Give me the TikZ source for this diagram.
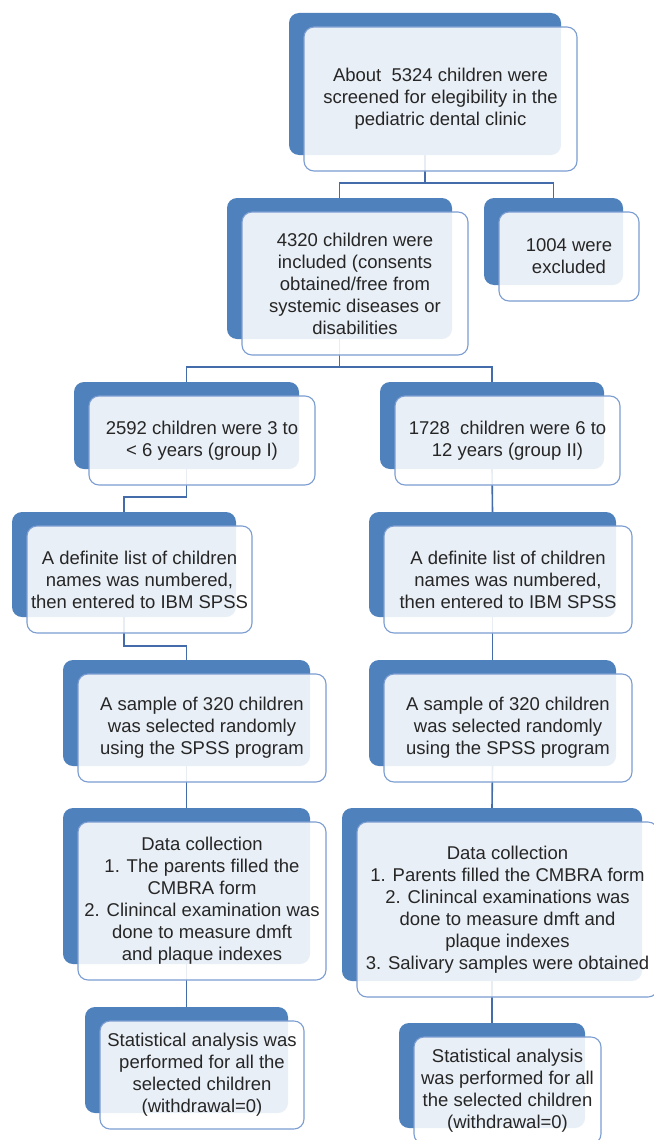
\documentclass[tikz,border=0pt]{standalone}
\usepackage{fontspec}
\setmainfont{Liberation Sans}
\usetikzlibrary{backgrounds}
\definecolor{accent}{RGB}{79,129,189}
\definecolor{rim}{RGB}{124,157,209}
\definecolor{wire}{RGB}{68,108,170}
\definecolor{ink}{RGB}{38,38,38}
\tikzset{
	darkbox/.style={fill=accent, rounded corners=10pt, inner sep=0pt},
	textbox/.style={draw=rim, line width=1.1pt, fill=white, fill opacity=0.88, text opacity=1, text=ink, rounded corners=10pt, inner sep=0pt, align=center, font=\fontsize{18.5}{22}\selectfont},
	connector/.style={draw=wire, line width=1.6pt}
}
\newcommand{\flowbox}[6]{
	\node[darkbox, minimum width=#4pt, minimum height=#5pt] (d#1) at (#2,#3) {};
	\node[textbox, minimum width=#4pt+1pt, minimum height=#5pt+2pt] (t#1) at ([shift={(15.5,15)}]d#1.center) {#6};
}

\begin{document}
\begin{tikzpicture}[x=1pt, y=-1pt]
		\useasboundingbox (0,0) rectangle (653,1140);
		\flowbox{1}{425}{84}{272}{142}{About~ 5324 children were\\screened for elegibility in the\\pediatric dental clinic}
		\flowbox{2}{339.5}{268.5}{225}{141}{4320 children were\\included (consents\\obtained/free from\\systemic diseases or\\disabilities}
		\flowbox{3}{553.5}{241.5}{139}{87}{1004 were\\excluded}
		
		\flowbox{4}{186.5}{425.5}{225}{87}{2592 children were 3 to\\< 6 years (group I)}
		\flowbox{6}{124}{564.5}{224}{105}{A definite list of children\\names was numbered,\\then entered to IBM SPSS}
		\flowbox{8}{186.5}{713}{247}{106}{A sample of 320 children\\was selected randomly\\using the SPSS program}
		\flowbox{10}{186.5}{886}{247}{156}{Data collection\\1. The parents filled the\\CMBRA form\\2. Clinincal examination was\\done to measure dmft\\and plaque indexes}
		\flowbox{12}{186.5}{1060}{203}{106}{Statistical analysis was\\performed for all the\\selected children\\(withdrawal=0)}
		
		\flowbox{5}{492}{425.5}{224}{87}{1728~ children were 6 to\\12 years (group II)}
		\flowbox{7}{492.5}{564.5}{247}{105}{A definite list of children\\names was numbered,\\then entered to IBM SPSS}
		\flowbox{9}{492.5}{713}{247}{106}{A sample of 320 children\\was selected randomly\\using the SPSS program}
		\flowbox{11}{492}{894.5}{300}{173}{Data collection\\1. Parents filled the CMBRA form\\2. Clinincal examinations was\\done to measure dmft and\\plaque indexes\\3. Salivary samples were obtained}
		\flowbox{13}{492}{1075.5}{186}{105}{Statistical analysis\\was performed for all\\the selected children\\(withdrawal=0)}
		
		\begin{scope}[on background layer]
			\fill[white] (0,0) rectangle (653,1140);
			\draw[connector] (d1.south) -- ++(0,28) -| (d2.north);
			\draw[connector] (d1.south) ++(0,28) -| (d3.north);
			\draw[connector] (d2.south) -- ++(0,28) -| (d4.north);
			\draw[connector] (d2.south) ++(0,28) -| (d5.north);
			\draw[connector] (d4.south) -- ++(0,28) -| (d6.north);
			\draw[connector] (d6.south) -- ++(0,29) -| (d8.north);
			\draw[connector] (d8.south) -- (d10.north);
			\draw[connector] (d10.south) -- (d12.north);
			\draw[connector] (d5.south) -- (d7.north);
			\draw[connector] (d7.south) -- (d9.north);
			\draw[connector] (d9.south) -- (d11.north);
			\draw[connector] (d11.south) -- (d13.north);
		\end{scope}
	\end{tikzpicture}
\end{document}
